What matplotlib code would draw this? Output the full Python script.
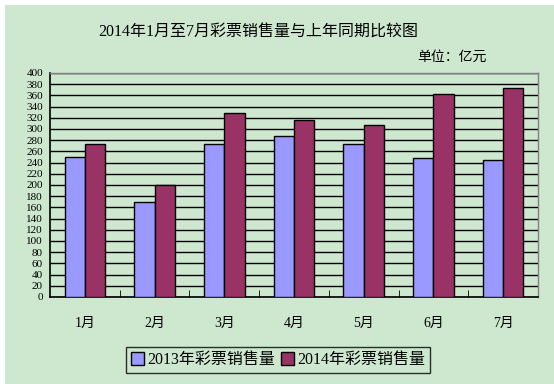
import matplotlib.pyplot as plt
import numpy as np
from matplotlib.patches import Rectangle

plt.rcParams['font.family'] = ['Liberation Serif', 'Noto Sans CJK SC']

months = ["1月", "2月", "3月", "4月", "5月", "6月", "7月"]
sales_2013 = [250, 169, 274, 287, 274, 248, 244]
sales_2014 = [273, 200, 328, 316, 308, 362, 373]
label_2013 = "2013年彩票销售量"
label_2014 = "2014年彩票销售量"
title = "2014年1月至7月彩票销售量与上年同期比较图"
unit = "单位：亿元"

bg = "#CDE8CF"
color_2013 = "#9999FF"
color_2014 = "#993366"

fig = plt.figure(figsize=(5.54, 3.84), dpi=100)
fig.patch.set_facecolor("white")
# green panel with a thin white margin at left/top
fig.patches.append(Rectangle((5 / 554, 0), 1, 1 - 5 / 384, transform=fig.transFigure,
                             facecolor=bg, edgecolor="none", zorder=-10))

ax = fig.add_axes([50 / 554, 1 - 297 / 384, 488 / 554, 224 / 384])
ax.set_facecolor(bg)

x = np.arange(len(months))
w = 0.29
ax.bar(x - w / 2, sales_2013, w, color=color_2013, edgecolor="black", linewidth=1,
       label=label_2013, zorder=3)
ax.bar(x + w / 2, sales_2014, w, color=color_2014, edgecolor="black", linewidth=1,
       label=label_2014, zorder=3)

ax.set_xlim(-0.5, len(months) - 0.5)
ax.set_ylim(0, 400)
ax.set_yticks(np.arange(0, 401, 20))
ax.yaxis.grid(True, color="black", linewidth=1)
ax.set_axisbelow(True)
ax.tick_params(axis="y", length=0, labelsize=8, pad=5)

# category labels, ticks between categories
ax.set_xticks(x)
ax.set_xticklabels(months, fontsize=10)
ax.tick_params(axis="x", length=0, pad=14)
ax.set_xticks(np.arange(0.5, len(months) - 0.5, 1), minor=True)
ax.tick_params(axis="x", which="minor", direction="in", length=5, color="black")

for side in ["left", "bottom"]:
    ax.spines[side].set_color("black")
    ax.spines[side].set_linewidth(1.2)
for side in ["top", "right"]:
    ax.spines[side].set_color("#808080")
    ax.spines[side].set_linewidth(1)

fig.text(258 / 554, 1 - 33 / 384, title, ha="center", va="center", fontsize=11.5)
fig.text(487 / 554, 1 - 57 / 384, unit, ha="right", va="center", fontsize=10)

leg = fig.legend(loc="center", bbox_to_anchor=(278 / 554, 1 - 360 / 384), ncol=2,
                 frameon=True, fancybox=False, edgecolor="black", fontsize=11.5,
                 handlelength=0.8, handleheight=0.8, handletextpad=0.2,
                 columnspacing=0.4, borderpad=0.3)
leg.get_frame().set_facecolor(bg)
leg.get_frame().set_linewidth(1)

fig.savefig("out.png", dpi=100, facecolor=fig.get_facecolor())
